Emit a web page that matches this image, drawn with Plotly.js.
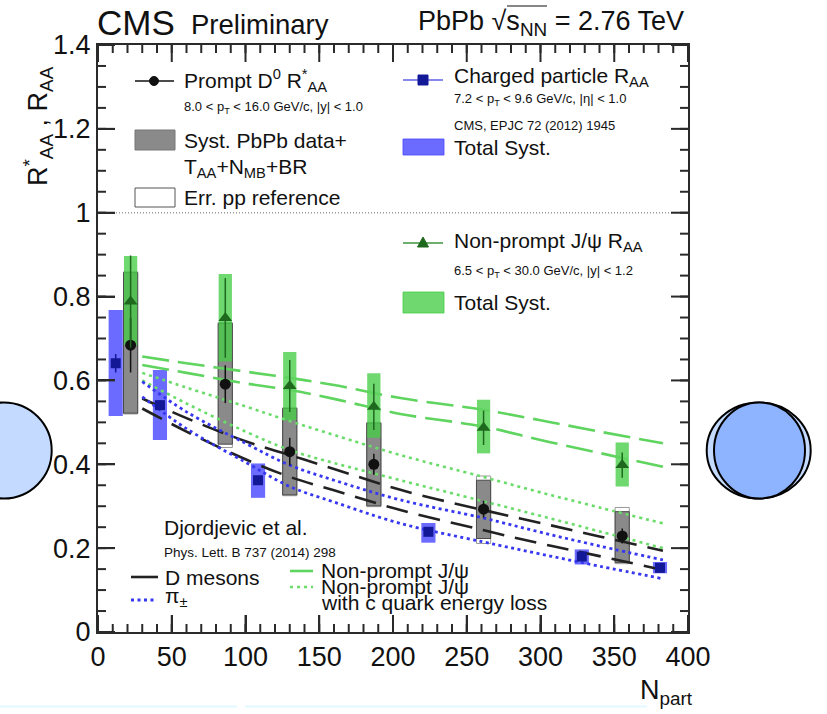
<!DOCTYPE html>
<html>
<head>
<meta charset="utf-8">
<script src="https://cdn.plot.ly/plotly-3.0.1.min.js"></script>
<style>
  html, body { margin: 0; padding: 0; background: #ffffff; }
  #chart { width: 827px; height: 714px; }
</style>
</head>
<body>
<div id="chart"></div>
<script>
// ---- Prompt D0 R*_AA vs Npart ----
const d0Npart  = [22.1, 86.3, 130.0, 187.0, 261.4, 355.4];
const d0Raa    = [0.684, 0.591, 0.430, 0.400, 0.293, 0.229];
const d0Stat   = [0.065, 0.045, 0.033, 0.025, 0.020, 0.018];
const d0SystLo = [0.522, 0.448, 0.327, 0.301, 0.223, 0.166];
const d0SystHi = [0.857, 0.736, 0.533, 0.498, 0.362, 0.287];
const d0PpLo   = [0.520, 0.440, 0.325, 0.299, 0.211, 0.163];
const d0PpHi   = [0.859, 0.738, 0.535, 0.500, 0.372, 0.297];

// ---- Charged particle R_AA (CMS, EPJC 72 (2012) 1945) ----
const chNpart  = [12.0, 42.0, 108.5, 224.0, 328.0, 381.0];
const chRaa    = [0.641, 0.541, 0.362, 0.239, 0.180, 0.153];
const chStat   = [0.022, 0.012, 0.010, 0.008, 0.006, 0.006];
const chSystLo = [0.515, 0.458, 0.320, 0.213, 0.161, 0.140];
const chSystHi = [0.768, 0.625, 0.402, 0.260, 0.197, 0.167];

// ---- Non-prompt J/psi R_AA ----
const jpNpart  = [22.1, 86.3, 130.0, 187.0, 261.4, 355.4];
const jpRaa    = [0.788, 0.749, 0.587, 0.537, 0.487, 0.398];
const jpStat   = [0.110, 0.095, 0.062, 0.055, 0.041, 0.030];
const jpSystLo = [0.684, 0.645, 0.505, 0.463, 0.426, 0.347];
const jpSystHi = [0.897, 0.854, 0.668, 0.617, 0.554, 0.452];

// ---- Djordjevic et al., Phys. Lett. B 737 (2014) 298 ----
const thNpart     = [30, 60, 100, 130, 160, 205, 261, 300, 340, 383];
const thDmesHi    = [0.557, 0.510, 0.455, 0.422, 0.389, 0.339, 0.291, 0.260, 0.228, 0.194];
const thDmesLo    = [0.533, 0.478, 0.412, 0.370, 0.338, 0.291, 0.243, 0.211, 0.181, 0.148];
const thPionHi    = [0.597, 0.525, 0.450, 0.398, 0.362, 0.315, 0.272, 0.238, 0.205, 0.172];
const thPionLo    = [0.561, 0.485, 0.405, 0.347, 0.310, 0.259, 0.215, 0.186, 0.157, 0.127];
const thJpsiHi    = [0.657, 0.641, 0.621, 0.606, 0.589, 0.558, 0.530, 0.505, 0.478, 0.450];
const thJpsiLo    = [0.637, 0.618, 0.593, 0.577, 0.556, 0.520, 0.490, 0.458, 0.427, 0.394];
const thJpsiCHi   = [0.618, 0.583, 0.538, 0.503, 0.470, 0.422, 0.370, 0.333, 0.297, 0.259];
const thJpsiCLo   = [0.600, 0.545, 0.478, 0.434, 0.403, 0.362, 0.312, 0.277, 0.240, 0.200];

// ---- axis ticks ----
const xRange = [0, 400], xMajor = 50, xMinorStep = 10;
const yRange = [0, 1.4], yMajor = 0.2, yMinorStep = 0.05;

// ---- frame geometry (pixels) ----
const W = 827, H = 714;
const L = 98, R = 688, T = 45, B = 632;
const px = v => (v - L) / (R - L);   // pixel x -> paper x
const py = v => (B - v) / (B - T);   // pixel y -> paper y

const FONT = 'Liberation Sans, Arial, Helvetica, sans-serif';
const BLACK = '#111111';
const AXIS = '#2a2a2a';
const GRAY_FILL = 'rgba(118,118,118,0.85)';
const BLUE_FILL = 'rgba(70,70,255,0.80)';
const GREEN_FILL = 'rgba(70,205,70,0.78)';
const NAVY = 'rgb(18,24,150)';
const DKGREEN = 'rgb(30,105,30)';

const shapes = [];
const annotations = [];

// reference line at R = 1
shapes.push({type: 'line', xref: 'x', yref: 'y', x0: 0, x1: 400, y0: 1, y1: 1,
  line: {color: '#9a9a9a', width: 1.5, dash: '1px,2px'}, layer: 'below'});

// systematic boxes
const HW_D = 4.8, HW_C = 4.8, HW_J = 4.5;
d0Npart.forEach((n, i) => {
  shapes.push({type: 'rect', xref: 'x', yref: 'y', x0: n - HW_D, x1: n + HW_D,
    y0: d0PpLo[i], y1: d0PpHi[i], fillcolor: '#ffffff',
    line: {color: '#9a9a9a', width: 1}, layer: 'below'});
});
d0Npart.forEach((n, i) => {
  shapes.push({type: 'rect', xref: 'x', yref: 'y', x0: n - HW_D, x1: n + HW_D,
    y0: d0SystLo[i], y1: d0SystHi[i], fillcolor: GRAY_FILL,
    line: {color: '#4a4a4a', width: 1}, layer: 'below'});
});
chNpart.forEach((n, i) => {
  shapes.push({type: 'rect', xref: 'x', yref: 'y', x0: n - HW_C, x1: n + HW_C,
    y0: chSystLo[i], y1: chSystHi[i], fillcolor: BLUE_FILL,
    line: {width: 0}, layer: 'below'});
});
jpNpart.forEach((n, i) => {
  shapes.push({type: 'rect', xref: 'x', yref: 'y', x0: n - HW_J, x1: n + HW_J,
    y0: jpSystLo[i], y1: jpSystHi[i], fillcolor: GREEN_FILL,
    line: {width: 0}, layer: 'below'});
});

// tick marks on all four sides of the frame, pointing inward (pixel geometry)
function xTicks(step, len) {
  const n = Math.round((xRange[1] - xRange[0]) / step);
  for (let k = 0; k <= n; k++) {
    const xp = L + (R - L) * (k * step) / (xRange[1] - xRange[0]);
    shapes.push({type: 'line', xref: 'paper', yref: 'paper', x0: px(xp), x1: px(xp),
      y0: py(B), y1: py(B - len), line: {color: AXIS, width: 2}});
    shapes.push({type: 'line', xref: 'paper', yref: 'paper', x0: px(xp), x1: px(xp),
      y0: py(T), y1: py(T + len), line: {color: AXIS, width: 2}});
  }
}
function yTicks(step, len) {
  const n = Math.round((yRange[1] - yRange[0]) / step);
  for (let k = 0; k <= n; k++) {
    const yp = B - (B - T) * (k * step) / (yRange[1] - yRange[0]);
    shapes.push({type: 'line', xref: 'paper', yref: 'paper', x0: px(L), x1: px(L + len),
      y0: py(yp), y1: py(yp), line: {color: AXIS, width: 2}});
    shapes.push({type: 'line', xref: 'paper', yref: 'paper', x0: px(R), x1: px(R - len),
      y0: py(yp), y1: py(yp), line: {color: AXIS, width: 2}});
  }
}
xTicks(xMinorStep, 8);
xTicks(xMajor, 17);
yTicks(yMinorStep, 8);
yTicks(yMajor, 17);

// theory curves
const curve = (y, color, dash, width) => ({
  x: thNpart, y: y, type: 'scatter', mode: 'lines', hoverinfo: 'skip',
  line: {color: color, dash: dash, width: width, shape: 'spline', smoothing: 1},
  showlegend: false
});
const GREEN_LINE = 'rgb(95,212,95)';
const GREEN_DOT = 'rgb(105,220,105)';
const BLUE_DOT = 'rgb(55,55,240)';
const traces = [
  curve(thJpsiHi, GREEN_LINE, '27px,9px', 2.6),
  curve(thJpsiLo, GREEN_LINE, '27px,9px', 2.6),
  curve(thJpsiCHi, GREEN_DOT, '3px,4px', 2.6),
  curve(thJpsiCLo, GREEN_DOT, '3px,4px', 2.6),
  curve(thDmesHi, '#222222', '22px,11px', 2.6),
  curve(thDmesLo, '#222222', '22px,11px', 2.6),
  curve(thPionHi, BLUE_DOT, '3px,3.5px', 2.8),
  curve(thPionLo, BLUE_DOT, '3px,3.5px', 2.8)
];

// data points
traces.push({
  x: chNpart, y: chRaa, type: 'scatter', mode: 'markers', showlegend: false,
  marker: {symbol: 'square', size: 10, color: NAVY},
  error_y: {type: 'data', array: chStat, visible: true, width: 0, thickness: 1.5, color: NAVY}
});
traces.push({
  x: d0Npart, y: d0Raa, type: 'scatter', mode: 'markers', showlegend: false,
  marker: {symbol: 'circle', size: 11, color: BLACK},
  error_y: {type: 'data', array: d0Stat, visible: true, width: 0, thickness: 1.5, color: BLACK}
});
traces.push({
  x: jpNpart, y: jpRaa, type: 'scatter', mode: 'markers', showlegend: false,
  marker: {symbol: 'triangle-up', size: 12, color: DKGREEN},
  error_y: {type: 'data', array: jpStat, visible: true, width: 0, thickness: 1.5, color: DKGREEN}
});

// ---- text helpers ----
function txt(text, x, y, size, opts) {
  annotations.push(Object.assign({
    text: text, xref: 'paper', yref: 'paper', x: px(x), y: py(y),
    xanchor: 'left', yanchor: 'middle', showarrow: false,
    font: {family: FONT, size: size, color: BLACK}
  }, opts || {}));
}
function pline(x0, x1, y, color, width, dash) {
  shapes.push({type: 'line', xref: 'paper', yref: 'paper', x0: px(x0), x1: px(x1),
    y0: py(y), y1: py(y), line: {color: color, width: width, dash: dash || 'solid'}});
}
function prect(x0, x1, y0, y1, fill, lc, lw) {
  shapes.push({type: 'rect', xref: 'paper', yref: 'paper', x0: px(x0), x1: px(x1),
    y0: py(y1), y1: py(y0), fillcolor: fill, line: {color: lc, width: lw}});
}
function pellipse(cx, cy, rx, ry, fill) {
  shapes.push({type: 'circle', xref: 'paper', yref: 'paper',
    x0: px(cx - rx), x1: px(cx + rx), y0: py(cy + ry), y1: py(cy - ry),
    fillcolor: fill, line: {color: '#000000', width: 2}});
}

// header
txt('CMS', 95, 23, 35);
txt('Preliminary', 189, 25, 27.5);
txt('PbPb \u221As<sub>NN</sub> = 2.76 TeV', 416, 23, 27);
pline(507, 547, 6, '#111111', 1.2);

// axis titles
txt('R<sup>*</sup><sub>AA</sub> , R<sub>AA</sub>', 38, 126, 27,
  {textangle: -90, xanchor: 'center', yanchor: 'middle'});
txt('N<sub>part</sub>', 638, 692, 27);

// legend: prompt D0
pline(135, 174, 81, BLACK, 1.5);
shapes.push({type: 'circle', xref: 'paper', yref: 'paper', x0: px(149.5), x1: px(158.5),
  y0: py(85.5), y1: py(76.5), fillcolor: BLACK, line: {color: BLACK, width: 1}});
txt('Prompt D<sup>0</sup> R<sup>*</sup><sub>AA</sub>', 182, 80, 21);
txt('8.0 < p<sub>T</sub> < 16.0 GeV/c, |y| < 1.0', 182, 108, 13);
prect(135, 175, 130, 150, GRAY_FILL, '#777777', 1);
txt('Syst. PbPb data+', 182, 140, 21);
txt('T<sub>AA</sub>+N<sub>MB</sub>+BR', 182, 168, 21);
prect(135, 175, 188, 207, '#ffffff', '#555555', 1);
txt('Err. pp reference', 182, 197, 21);

// legend: charged particles
pline(403, 443, 80, 'rgb(95,95,230)', 1.5);
prect(418, 428, 75, 85, NAVY, NAVY, 1);
txt('Charged particle R<sub>AA</sub>', 452, 77, 21);
txt('7.2 < p<sub>T</sub> < 9.6 GeV/c, |\u03b7| < 1.0', 452, 100, 13);
txt('CMS, EPJC 72 (2012) 1945', 452, 125, 13);
prect(403, 444, 139, 155, BLUE_FILL, 'rgba(70,70,255,0.8)', 1);
txt('Total Syst.', 452, 147, 21);

// legend: non-prompt J/psi
pline(403, 443, 243, 'rgb(60,150,60)', 1.5);
shapes.push({type: 'path', xref: 'paper', yref: 'paper',
  path: `M ${px(417.5)} ${py(247)} L ${px(428.5)} ${py(247)} L ${px(423)} ${py(237)} Z`,
  fillcolor: DKGREEN, line: {color: DKGREEN, width: 1}});
txt('Non-prompt J/\u03c8 R<sub>AA</sub>', 452, 242, 21);
txt('6.5 < p<sub>T</sub> < 30.0 GeV/c, |y| < 1.2', 452, 271, 13);
prect(403, 444, 292, 313, GREEN_FILL, 'rgba(70,205,70,0.8)', 1);
txt('Total Syst.', 452, 302, 21);

// legend: theory
txt('Djordjevic et al.', 162, 527, 21);
txt('Phys. Lett. B 737 (2014) 298', 162, 552, 13.5);
pline(131, 158, 577, '#222222', 2.6);
txt('D mesons', 163, 577, 21);
pline(131, 156, 600, BLUE_DOT, 2.8, '3px,3.5px');
txt('\u03c0<sub>\u00b1</sub>', 163, 597, 21);
pline(290, 313, 571, GREEN_LINE, 2.6);
pline(290, 313, 587, GREEN_DOT, 2.6, '3px,4px');
txt('Non-prompt J/\u03c8', 319, 570, 21);
txt('Non-prompt J/\u03c8', 319, 586, 21);
txt('with c quark energy loss', 319, 602, 21);

// side decorations
pellipse(3.7, 450.5, 48, 48, 'rgb(196,218,255)');
pellipse(758.7, 450.5, 52, 48, 'rgb(196,218,255)');
pellipse(759.5, 450.5, 45.5, 48, 'rgb(143,180,255)');
pline(0, 237, 706.5, 'rgb(225,250,255)', 2);
pline(245, 647, 706.5, 'rgb(225,250,255)', 2);

const axisCommon = {
  showline: true, linecolor: AXIS, linewidth: 2, mirror: true,
  ticks: 'inside', ticklen: 17, tickwidth: 2, tickcolor: AXIS,
  showgrid: false, zeroline: false, fixedrange: true,
  tickfont: {family: FONT, size: 27, color: BLACK}
};

const layout = {
  width: W, height: H,
  margin: {l: L, r: W - R, t: T, b: H - B, pad: 0},
  paper_bgcolor: '#ffffff', plot_bgcolor: '#ffffff',
  showlegend: false,
  xaxis: Object.assign({}, axisCommon, {
    range: xRange, tickmode: 'linear', tick0: 0, dtick: xMajor
  }),
  yaxis: Object.assign({}, axisCommon, {
    range: yRange, tickmode: 'linear', tick0: 0, dtick: yMajor
  }),
  shapes: shapes,
  annotations: annotations
};

Plotly.newPlot('chart', traces, layout, {staticPlot: true, displayModeBar: false});
</script>
</body>
</html>
